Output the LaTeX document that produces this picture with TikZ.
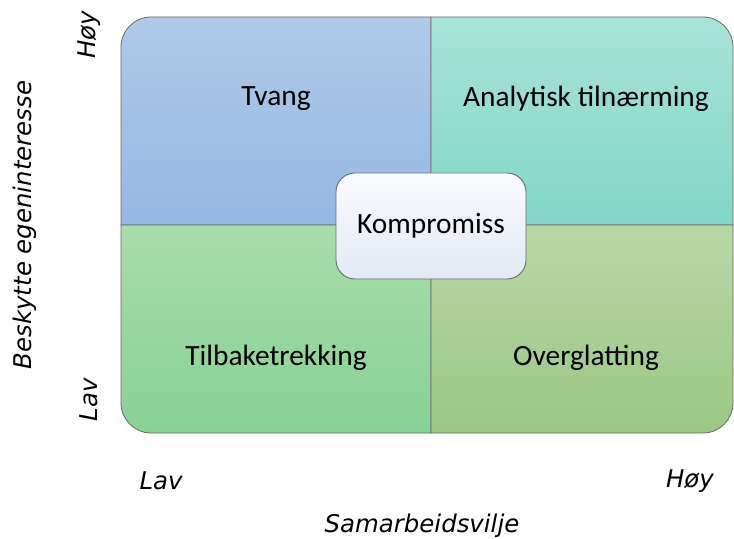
\documentclass[tikz,border=0pt]{standalone}
\usepackage{fontspec}
\setmainfont{Carlito}
\newfontfamily\axisfont{DejaVu Sans}
\definecolor{edgegray}{HTML}{6A6A6A}
\definecolor{tlTop}{HTML}{B0CAE8}
\definecolor{tlBot}{HTML}{94B7E3}
\definecolor{trTop}{HTML}{A8E3D7}
\definecolor{trBot}{HTML}{82D7C7}
\definecolor{blTop}{HTML}{A8DDAB}
\definecolor{blBot}{HTML}{88D195}
\definecolor{brTop}{HTML}{B9D7A6}
\definecolor{brBot}{HTML}{9BC785}
\definecolor{kTop}{HTML}{FAFBFE}
\definecolor{kBot}{HTML}{E2E9F4}
\tikzset{
  quad/.style={draw=edgegray, line width=0.8pt},
  quadlabel/.style={font=\fontsize{29.5}{34}\selectfont, text=black},
  axislabel/.style={font=\axisfont\itshape\fontsize{24.5}{28}\selectfont, text=black},
  centerbox/.style={draw=edgegray, line width=0.9pt, rounded corners=19bp,
    top color=kTop, bottom color=kBot, minimum width=190bp, minimum height=106bp,
    font=\fontsize{29.5}{34}\selectfont}
}
\begin{document}
\begin{tikzpicture}[x=1bp,y=-1bp]
\useasboundingbox (0,0) rectangle (734,539);
% four quadrants, each rounded at its outer corner only
\shade[quad, top color=tlTop, bottom color=tlBot]
  (121,225) [rounded corners=30bp] -- (121,17) [sharp corners] -- (431,17) -- (431,225) -- cycle;
\shade[quad, top color=trTop, bottom color=trBot]
  (431,17) [rounded corners=30bp] -- (733,17) [sharp corners] -- (733,225) -- (431,225) -- cycle;
\shade[quad, top color=blTop, bottom color=blBot]
  (431,433) [rounded corners=30bp] -- (121,433) [sharp corners] -- (121,225) -- (431,225) -- cycle;
\shade[quad, top color=brTop, bottom color=brBot]
  (733,225) [rounded corners=30bp] -- (733,433) [sharp corners] -- (431,433) -- (431,225) -- cycle;
% quadrant labels
\node[quadlabel] (tvang) at (276,99) {Tvang};
\node[quadlabel] (analytisk) at (586,99) {Analytisk tilnærming};
\node[quadlabel] (tilbake) at (276,358) {Tilbaketrekking};
\node[quadlabel] (overglatting) at (586,358) {Overglatting};
% centre box
\node[centerbox] (kompromiss) at (431,226) {Kompromiss};
% axes
\node[axislabel] (xlav) at (161,481) {Lav};
\node[axislabel] (xhoy) at (690,481) {Høy};
\node[axislabel] (xtitle) at (422,526) {Samarbeidsvilje};
\node[axislabel, rotate=90] (ylav) at (89,400) {Lav};
\node[axislabel, rotate=90] (yhoy) at (89,35) {Høy};
\node[axislabel, rotate=90] (ytitle) at (25,225) {Beskytte egeninteresse};
\end{tikzpicture}
\end{document}
